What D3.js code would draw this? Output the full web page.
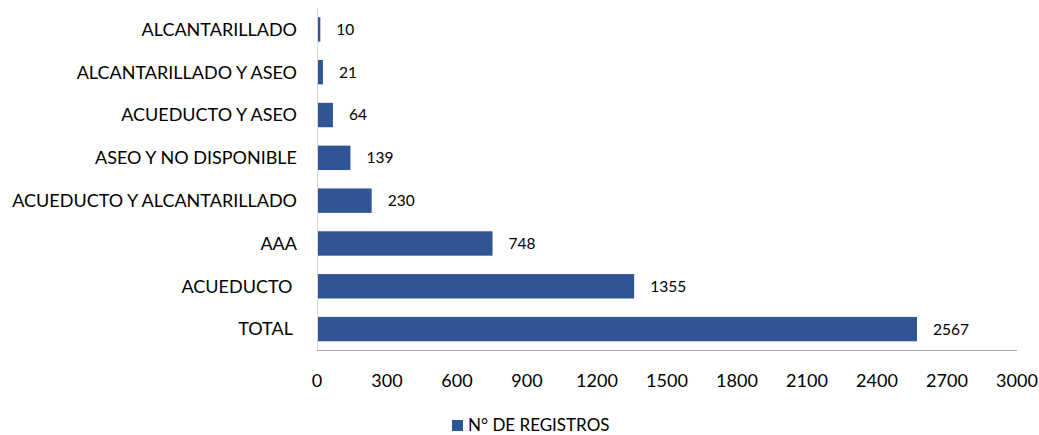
<!DOCTYPE html>
<html>
<head>
<meta charset="utf-8">
<script src="https://cdn.jsdelivr.net/npm/d3@7"></script>
<style>
  body { margin: 0; background: #fff; }
  svg { font-family: Lato, sans-serif; }
</style>
</head>
<body>
<div id="chart"></div>
<script>
const categories = ['ALCANTARILLADO', 'ALCANTARILLADO Y ASEO', 'ACUEDUCTO Y ASEO', 'ASEO Y NO DISPONIBLE',
    'ACUEDUCTO Y ALCANTARILLADO', 'AAA', 'ACUEDUCTO ', 'TOTAL '];
const values = [10, 21, 64, 139, 230, 748, 1355, 2567];
const xTicks = [0, 300, 600, 900, 1200, 1500, 1800, 2100, 2400, 2700, 3000];
const seriesName = 'N° DE REGISTROS';

const width = 1039, height = 435;
const color = '#2F5597';

const svg = d3.select('#chart').append('svg')
    .attr('width', width)
    .attr('height', height);

const x = d3.scaleLinear().domain([0, 3000]).range([317, 1017]);
const y = d3.scaleBand().domain(categories).range([8, 350.5]).paddingInner(0.43).paddingOuter(0.215);

// vertical axis line
svg.append('line')
    .attr('x1', 317.5).attr('x2', 317.5)
    .attr('y1', 8).attr('y2', 350.5)
    .attr('stroke', '#d9d9d9');

// bars
svg.selectAll('.bar')
    .data(values)
    .join('rect')
    .attr('x', x(0) + 1)
    .attr('y', (d, i) => y(categories[i]))
    .attr('width', d => x(d) - x(0))
    .attr('height', y.bandwidth())
    .attr('fill', color);

// bottom axis line
svg.append('line')
    .attr('x1', 317).attr('x2', 1017)
    .attr('y1', 350.5).attr('y2', 350.5)
    .attr('stroke', '#a6a6a6');

// value labels
svg.selectAll('.val')
    .data(values)
    .join('text')
    .attr('x', d => x(d) + 17)
    .attr('y', (d, i) => y(categories[i]) + y.bandwidth() / 2)
    .attr('dy', '0.35em')
    .attr('font-size', 15.5)
    .attr('fill', '#000')
    .text(d => d);

// category labels
svg.selectAll('.cat')
    .data(categories)
    .join('text')
    .attr('x', 297)
    .attr('y', d => y(d) + y.bandwidth() / 2)
    .attr('dy', '0.35em')
    .attr('text-anchor', 'end')
    .attr('font-size', 18)
    .attr('fill', '#000')
    .style('white-space', 'pre')
    .text(d => d);

// x tick labels
svg.selectAll('.tick')
    .data(xTicks)
    .join('text')
    .attr('x', d => x(d))
    .attr('y', 381)
    .attr('dy', '0.35em')
    .attr('text-anchor', 'middle')
    .attr('font-size', 18)
    .attr('fill', '#000')
    .text(d => d);

// legend
svg.append('rect')
    .attr('x', 452).attr('y', 420)
    .attr('width', 11).attr('height', 11)
    .attr('fill', color);
svg.append('text')
    .attr('x', 468).attr('y', 431)
    .attr('font-size', 17)
    .attr('fill', '#000')
    .text(seriesName);
</script>
</body>
</html>
